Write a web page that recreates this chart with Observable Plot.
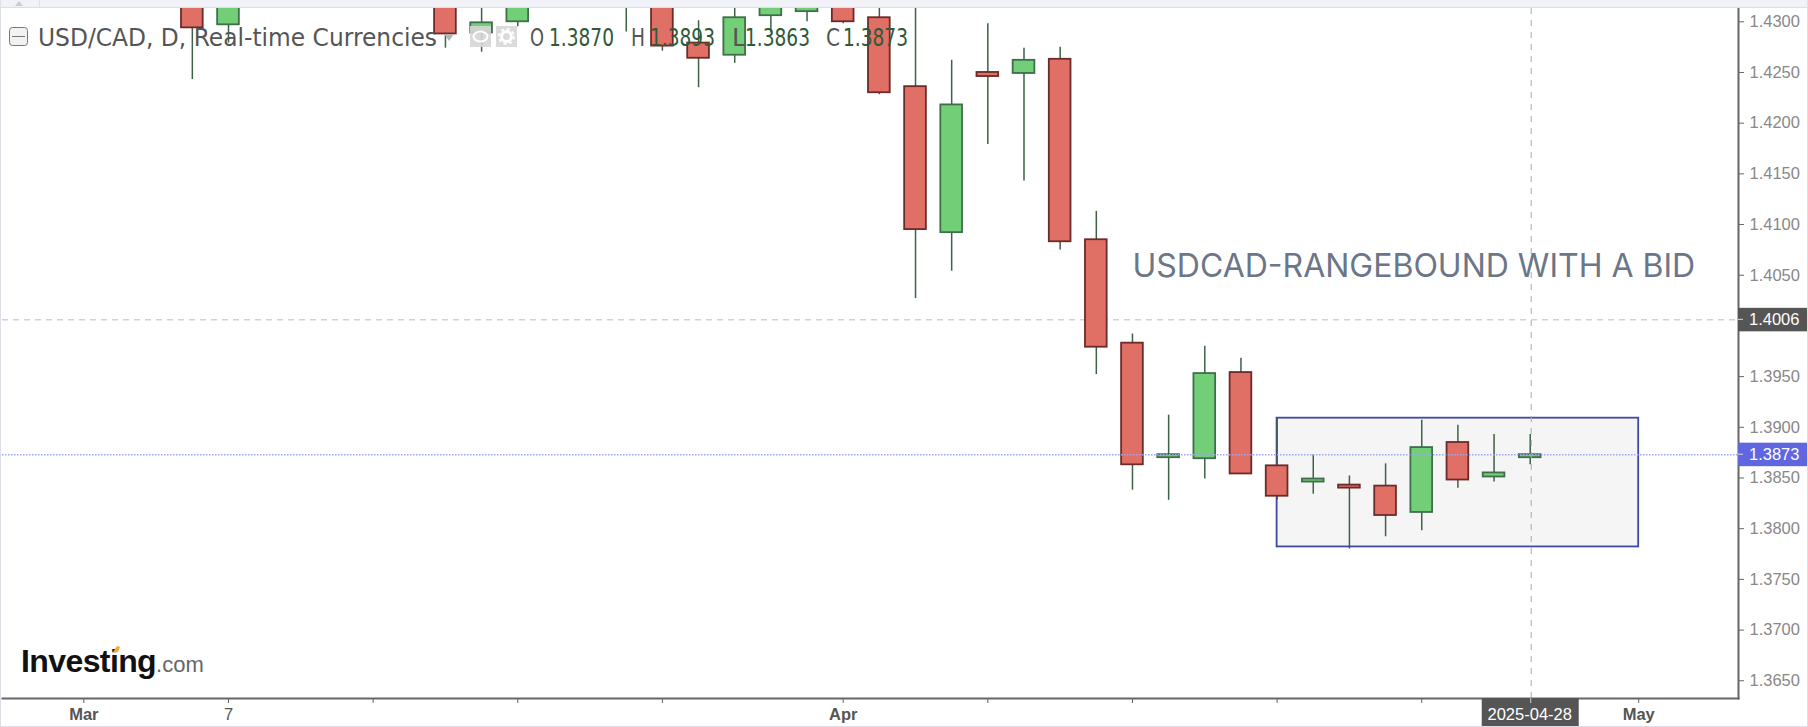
<!DOCTYPE html>
<html>
<head>
<meta charset="utf-8">
<script src="https://cdn.jsdelivr.net/npm/d3@7"></script>
<script src="https://cdn.jsdelivr.net/npm/@observablehq/plot@0.6"></script>
<style>
  html, body { margin: 0; padding: 0; background: #fff; overflow: hidden; }
  svg { display: block; }
</style>
</head>
<body>
<div id="chart"></div>
<script>
const sessionDates = ["2025-03-06","2025-03-07","2025-03-17","2025-03-18","2025-03-19","2025-03-24","2025-03-25","2025-03-26","2025-03-27","2025-03-28","2025-03-31","2025-04-01","2025-04-02","2025-04-03","2025-04-04","2025-04-07","2025-04-08","2025-04-09","2025-04-10","2025-04-11","2025-04-14","2025-04-15","2025-04-16","2025-04-17","2025-04-18","2025-04-21","2025-04-22","2025-04-23","2025-04-24","2025-04-25","2025-04-28"];
const opens  = [1.4345,1.4297,1.4340,1.4289,1.4300,1.4345,1.4340,1.4279,1.4267,1.4306,1.4310,1.4320,1.4304,1.4236,1.4092,1.4250,1.4249,1.4263,1.4085,1.3983,1.3870,1.3869,1.3954,1.3862,1.3846,1.3843,1.3842,1.3816,1.3885,1.3851,1.3870];
const highs  = [1.4350,1.4340,1.4350,1.4325,1.4345,1.4360,1.4350,1.4301,1.4325,1.4335,1.4335,1.4330,1.4325,1.4325,1.4262,1.4298,1.4274,1.4275,1.4113,1.3992,1.3912,1.3980,1.3968,1.3909,1.3873,1.3852,1.3864,1.3907,1.3902,1.3893,1.3893];
const lows   = [1.4243,1.4279,1.4274,1.4270,1.4295,1.4290,1.4271,1.4235,1.4259,1.4289,1.4300,1.4298,1.4228,1.4027,1.4054,1.4179,1.4143,1.4075,1.3952,1.3838,1.3828,1.3849,1.3854,1.3828,1.3834,1.3780,1.3792,1.3798,1.3840,1.3846,1.3863];
const closes = [1.4294,1.4330,1.4288,1.4299,1.4335,1.4335,1.4276,1.4264,1.4304,1.4325,1.4320,1.4300,1.4230,1.4095,1.4218,1.4246,1.4262,1.4083,1.3979,1.3863,1.3873,1.3953,1.3854,1.3832,1.3849,1.3840,1.3813,1.3880,1.3848,1.3855,1.3873];

const priceTicks = [1.365,1.37,1.375,1.38,1.385,1.39,1.395,1.40,1.405,1.41,1.415,1.42,1.425,1.43];
const plainTickDates = ["2025-03-07","2025-03-13","2025-03-19","2025-03-25","2025-04-07","2025-04-11","2025-04-17","2025-04-23","2025-04-29"];
const plainTickLabels = ["7","","","","","","","",""];
const monthTickDates = ["2025-03-03","2025-04-01","2025-05-01"];
const monthTickLabels = ["Mar","Apr","May"];

const rangeBox = {from: "2025-04-17", to: "2025-05-01", top: 1.3909, bottom: 1.3782};
const crossPrice = 1.4006;
const lastPrice = 1.3873;
const crossDate = "2025-04-28";
const annotation = "USDCAD-RANGEBOUND WITH A BID";
const headerTitle = "USD/CAD, D, Real-time Currencies";

const firstDay = new Date("2025-03-03");
const sessionIndex = s => d3.utcDays(firstDay, new Date(s)).filter(d => d.getUTCDay() % 6 !== 0).length;

const candles = sessionDates.map((date, i) => ({
  pos: sessionIndex(date), open: opens[i], high: highs[i], low: lows[i], close: closes[i]
}));
const up = candles.filter(d => d.close >= d.open);
const down = candles.filter(d => d.close < d.open);
const halfBody = 0.3;

const fmt = d3.format(".4f");
const sans = "'Liberation Sans', Arial, sans-serif";
const cond = "'DejaVu Sans', sans-serif";
const last = candles[candles.length - 1];

function body(data, fill, stroke) {
  return Plot.rect(data, {
    x1: d => d.pos - halfBody, x2: d => d.pos + halfBody,
    y1: "open", y2: "close", fill, stroke, strokeWidth: 1.8, clip: true
  });
}

// Price tags, date tag, window chrome, header and logo: real text and shapes around the plot.
function chrome(index, {x, y}, channels, dims) {
  const g = d3.create("svg:g").attr("text-anchor", "start");
  const right = dims.width - dims.marginRight;
  const tag = (v, fill) => {
    g.append("rect").attr("x", right).attr("y", y(v) - 11.5).attr("width", 69).attr("height", 23.5).attr("fill", fill);
    g.append("line").attr("x1", right).attr("x2", right + 5).attr("y1", y(v)).attr("y2", y(v)).attr("stroke", "#ddd");
    g.append("text").attr("x", right + 11).attr("y", y(v) + 6).attr("fill", "#fff")
      .attr("font-family", sans).attr("font-size", 16.5).text(fmt(v));
  };
  tag(crossPrice, "#555555");
  tag(lastPrice, "#6066e0");

  const cx = x(sessionIndex(crossDate)) + 1;
  g.append("rect").attr("x", cx - 49).attr("y", dims.height - dims.marginBottom).attr("width", 97).attr("height", dims.marginBottom).attr("fill", "#555555");
  g.append("line").attr("x1", cx).attr("x2", cx).attr("y1", dims.height - dims.marginBottom).attr("y2", dims.height - dims.marginBottom + 5).attr("stroke", "#ccc");
  g.append("text").attr("x", cx - 1).attr("y", dims.height - 7).attr("text-anchor", "middle").attr("fill", "#fff")
    .attr("font-family", sans).attr("font-size", 16.5).text(crossDate);

  // window edges and top strip
  g.append("rect").attr("x", 0).attr("y", 0).attr("width", dims.width).attr("height", 7).attr("fill", "#f0f2f7");
  g.append("line").attr("x1", 0).attr("x2", dims.width).attr("y1", 7.5).attr("y2", 7.5).attr("stroke", "#dcdfe6");
  g.append("line").attr("x1", 39.5).attr("x2", 39.5).attr("y1", 0).attr("y2", 7).attr("stroke", "#dcdfe6");
  g.append("path").attr("d", "M15 6 L19 1 L23 6 Z").attr("fill", "#c9ccd3");
  g.append("line").attr("x1", 0.5).attr("x2", 0.5).attr("y1", 0).attr("y2", dims.height).attr("stroke", "#dcdfe6");
  g.append("line").attr("x1", 1807.5).attr("x2", 1807.5).attr("y1", 0).attr("y2", dims.height).attr("stroke", "#dcdfe6");
  g.append("line").attr("x1", 0).attr("x2", dims.width).attr("y1", 726.5).attr("y2", 726.5).attr("stroke", "#dcdfe6");

  // header: collapse icon, title, menu arrow, eye and gear, OHLC
  g.append("rect").attr("x", 9.5).attr("y", 27.5).attr("width", 18).attr("height", 18).attr("rx", 3).attr("fill", "#f2f2f2").attr("stroke", "#777");
  g.append("line").attr("x1", 12).attr("x2", 25).attr("y1", 36.5).attr("y2", 36.5).attr("stroke", "#777");
  const hdr = (tx, txt, fill, w) => {
    const t = g.append("text").attr("x", tx).attr("y", 46).attr("fill", fill)
      .attr("font-family", cond).attr("font-size", 24).text(txt);
    if (w) t.attr("textLength", w).attr("lengthAdjust", "spacingAndGlyphs");
  };
  hdr(38, headerTitle, "#555555", 399);
  g.append("path").attr("d", "M444 34 L454 34 L449 41 Z").attr("fill", "#b5b5b5");
  g.append("rect").attr("x", 470).attr("y", 26).attr("width", 21).attr("height", 21).attr("fill", "#d6d6d6").attr("fill-opacity", 0.9);
  g.append("rect").attr("x", 496).attr("y", 26).attr("width", 21).attr("height", 21).attr("fill", "#d6d6d6").attr("fill-opacity", 0.9);
  g.append("ellipse").attr("cx", 480.5).attr("cy", 36.5).attr("rx", 7).attr("ry", 5).attr("fill", "none").attr("stroke", "#fff").attr("stroke-width", 2);
  g.append("circle").attr("cx", 506.5).attr("cy", 36.5).attr("r", 5).attr("fill", "none").attr("stroke", "#fff").attr("stroke-width", 3);
  g.append("circle").attr("cx", 506.5).attr("cy", 36.5).attr("r", 7.5).attr("fill", "none").attr("stroke", "#fff").attr("stroke-width", 2).attr("stroke-dasharray", "3 2.9");
  const ohlc = [["O", last.open, 530, 549], ["H", last.high, 631, 650], ["L", last.low, 732, 745], ["C", last.close, 826, 843]];
  for (const [k, v, kx, vx] of ohlc) {
    hdr(kx, k, "#555555", 14);
    hdr(vx, fmt(v), "#2f5a36", 65);
  }

  // logo
  const logo = g.append("text").attr("x", 21).attr("y", 672).attr("font-family", sans);
  logo.append("tspan").attr("font-size", 32).attr("font-weight", "bold").attr("letter-spacing", -0.6).attr("fill", "#111").text("Investing");
  logo.append("tspan").attr("font-size", 22).attr("fill", "#666").text(".com");
  g.append("path").attr("d", "M113 652 L117 646 L120 647 L118 652 Z").attr("fill", "#f0a92e");
  return g.node();
}

const chart = Plot.plot({
  width: 1808, height: 727,
  marginLeft: 2, marginRight: 70, marginTop: 8, marginBottom: 29,
  style: {background: "#fff", fontFamily: sans},
  x: {type: "linear", domain: [-2.25, 45.76]},
  y: {type: "linear", domain: [1.36325, 1.43131]},
  marks: [
    Plot.rect([rangeBox], {
      x1: d => sessionIndex(d.from), x2: d => sessionIndex(d.to),
      y1: "bottom", y2: "top", fill: "#f5f5f5", stroke: "#3f48a8", strokeWidth: 1.8
    }),
    Plot.ruleY([crossPrice], {stroke: "#bdbdbd", strokeDasharray: "6,5"}),
    Plot.ruleX(candles, {x: "pos", y1: "low", y2: "high", stroke: "#3c6145", strokeWidth: 1.5, clip: true}),
    body(down, "#e06f66", "#6b2b2a"),
    body(up, "#72cf78", "#3f6e4a"),
    Plot.ruleY([lastPrice], {stroke: "#9ea3f2", strokeWidth: 1.4, strokeDasharray: "1.5,1.5"}),
    Plot.ruleX([sessionIndex(crossDate)], {stroke: "#aaaaaa", strokeDasharray: "6,6", dx: 1}),
    Plot.text([annotation], {
      x: sessionIndex("2025-04-11"), y: 1.40487, text: d => d, textAnchor: "start", lineAnchor: "bottom",
      fill: "#6b7688", fontSize: 32, fontFamily: "Inter, sans-serif"
    }),
    Plot.axisY(priceTicks, {
      anchor: "right", label: null, tickSize: 5, tickPadding: 6, tickFormat: fmt,
      stroke: "#666", fill: "#888", fontSize: 16.5, fontFamily: sans
    }),
    Plot.axisX(plainTickDates.map(sessionIndex), {
      label: null, tickSize: 5, tickPadding: 5, stroke: "#666", fill: "#555", fontSize: 16.5, fontFamily: sans,
      tickFormat: v => plainTickLabels[plainTickDates.map(sessionIndex).indexOf(v)] ?? ""
    }),
    Plot.axisX(monthTickDates.map(sessionIndex), {
      label: null, tickSize: 5, tickPadding: 5, stroke: "#666", fill: "#555", fontSize: 16.5, fontWeight: "bold", fontFamily: sans,
      tickFormat: v => monthTickLabels[monthTickDates.map(sessionIndex).indexOf(v)] ?? ""
    }),
    Plot.frame({anchor: "right", stroke: "#666", strokeWidth: 2}),
    Plot.frame({anchor: "bottom", stroke: "#666", strokeWidth: 2}),
    chrome
  ]
});
document.getElementById("chart").append(chart);
</script>
</body>
</html>
